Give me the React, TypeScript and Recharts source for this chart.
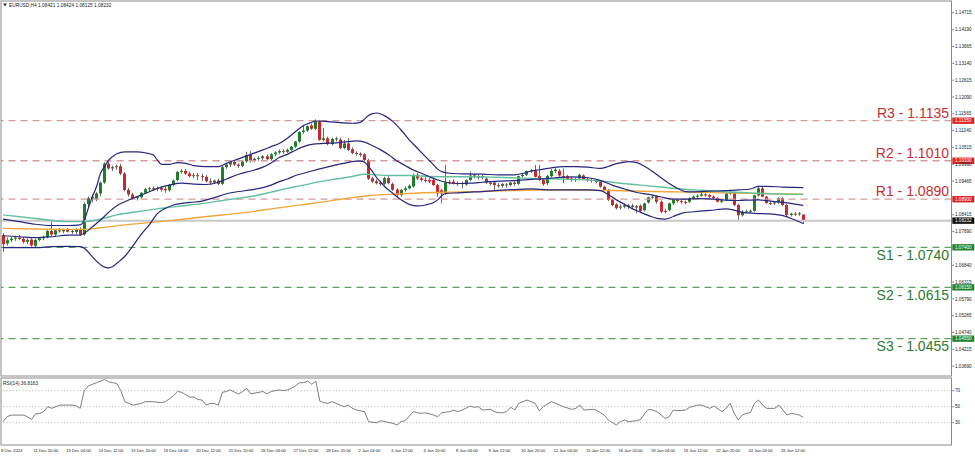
import React from "react";
import { ComposedChart, Bar, Line, XAxis, YAxis, ReferenceLine } from "recharts";

const FONT = '"Liberation Sans", Arial, Helvetica, sans-serif';

// ---- candles (EURUSD H4), index 0 = 8 Dec 2023 12:00 ----
const OPEN = [
  1.0778, 1.0752, 1.0762, 1.0767, 1.077, 1.0766, 1.0757, 1.0764, 1.0745, 1.0763,
  1.0768, 1.0772, 1.0791, 1.078, 1.0793, 1.079, 1.0794, 1.0789, 1.0788, 1.0797,
  1.078, 1.0875, 1.0893, 1.089, 1.0908, 1.0942, 1.1001, 1.0986, 1.099, 1.0993,
  1.097, 1.0919, 1.0905, 1.0893, 1.0896, 1.091, 1.0921, 1.0924, 1.0922, 1.0925,
  1.0922, 1.0918, 1.0935, 1.095, 1.0975, 1.0978, 1.097, 1.0962, 1.0965, 1.0962,
  1.096, 1.0946, 1.0942, 1.0948, 1.0938, 1.099, 1.0998, 1.1006, 1.0998, 1.0994,
  1.1008, 1.1028, 1.101, 1.1016, 1.1018, 1.1024, 1.1015, 1.103, 1.1036, 1.104,
  1.1038, 1.1044, 1.1054, 1.107, 1.11, 1.1104, 1.112, 1.111, 1.1132, 1.1075,
  1.108, 1.1062, 1.1078, 1.1076, 1.105, 1.1064, 1.1046, 1.1034, 1.1032, 1.103,
  1.1012, 1.0955, 1.0946, 1.0942, 1.0938, 1.0956, 1.0938, 1.092, 1.0903, 1.0919,
  1.0924, 1.093, 1.0966, 1.0955, 1.095, 1.095, 1.095, 1.0934, 1.0918, 1.091,
  1.0943, 1.0945, 1.094, 1.0938, 1.0936, 1.095, 1.0964, 1.0962, 1.0958, 1.0954,
  1.0942, 1.0942, 1.0934, 1.0932, 1.0936, 1.0934, 1.0942, 1.0938, 1.0962, 1.0966,
  1.0978, 1.098, 1.0962, 1.095, 1.094, 1.0962, 1.0978, 1.0978, 1.0962, 1.0962,
  1.0955, 1.095, 1.0955, 1.0964, 1.0953, 1.095, 1.0947, 1.0945, 1.0929, 1.0919,
  1.0888, 1.0874, 1.0866, 1.0867, 1.0871, 1.0866, 1.0868, 1.087, 1.0856, 1.088,
  1.0896, 1.0899, 1.0882, 1.0853, 1.0856, 1.0877, 1.0888, 1.0884, 1.0881, 1.0882,
  1.0893, 1.0898, 1.0901, 1.0905, 1.0903, 1.0898, 1.0893, 1.0882, 1.0888, 1.0908,
  1.091, 1.0872, 1.084, 1.0851, 1.0852, 1.0854, 1.0902, 1.0924, 1.0898, 1.0878,
  1.0877, 1.088, 1.0893, 1.0872, 1.0841, 1.0845, 1.0843, 1.08421,
];
const HIGH = [
  1.0784, 1.077, 1.0772, 1.0776, 1.0778, 1.0772, 1.0768, 1.0768, 1.0766, 1.0772,
  1.0776, 1.0795, 1.0825, 1.0796, 1.08, 1.0798, 1.08, 1.0796, 1.08, 1.0802,
  1.088, 1.0898, 1.0905, 1.0912, 1.0945, 1.1005, 1.1008, 1.0995, 1.0998, 1.1,
  1.0975, 1.0925, 1.091, 1.09, 1.0912, 1.0925, 1.0928, 1.093, 1.093, 1.093,
  1.0928, 1.0938, 1.0952, 1.0978, 1.0984, 1.0985, 1.0976, 1.0972, 1.0972, 1.097,
  1.0966, 1.0955, 1.0952, 1.0954, 1.0995, 1.1002, 1.1008, 1.1012, 1.1002, 1.101,
  1.1038, 1.104, 1.102, 1.1024, 1.1028, 1.103, 1.1034, 1.104, 1.1045, 1.1046,
  1.1048, 1.1056, 1.1072, 1.1102, 1.1122, 1.112, 1.1126, 1.1139, 1.1136, 1.1112,
  1.1085, 1.1082, 1.1085, 1.1082, 1.1075, 1.108, 1.1052, 1.104, 1.1036, 1.1034,
  1.1016, 1.096, 1.0952, 1.0948, 1.096, 1.0962, 1.0942, 1.0924, 1.0922, 1.093,
  1.0936, 1.097, 1.0972, 1.096, 1.0958, 1.0956, 1.0955, 1.0938, 1.0922, 1.0997,
  1.095, 1.0952, 1.0946, 1.0944, 1.0952, 1.0976, 1.097, 1.0968, 1.0966, 1.096,
  1.0946, 1.0946, 1.094, 1.094, 1.094, 1.0944, 1.0946, 1.0964, 1.097, 1.098,
  1.0984, 1.0997, 1.0997, 1.0956, 1.0966, 1.0984, 1.0988, 1.0984, 1.0986, 1.0966,
  1.096, 1.0958, 1.097, 1.0968, 1.0958, 1.0954, 1.0952, 1.0948, 1.0932, 1.0922,
  1.0892, 1.0878, 1.0874, 1.0876, 1.0875, 1.0876, 1.0872, 1.0874, 1.0879, 1.0898,
  1.0902, 1.0903, 1.0886, 1.086, 1.088, 1.089, 1.0892, 1.089, 1.0886, 1.0896,
  1.0902, 1.0906, 1.091, 1.091, 1.0906, 1.0902, 1.0896, 1.089, 1.091, 1.0916,
  1.0914, 1.0876, 1.0856, 1.0858, 1.0858, 1.0904, 1.093, 1.0928, 1.09, 1.0884,
  1.0884, 1.0896, 1.0898, 1.0875, 1.0848, 1.085, 1.085, 1.08424,
];
const LOW = [
  1.0726, 1.0745, 1.0756, 1.076, 1.0763, 1.0752, 1.075, 1.0742, 1.0738, 1.0758,
  1.0762, 1.0768, 1.0775, 1.0774, 1.0786, 1.0784, 1.0786, 1.0782, 1.0782, 1.0776,
  1.0776, 1.0866, 1.088, 1.0884, 1.09, 1.0938, 1.0982, 1.0978, 1.0982, 1.0965,
  1.0915, 1.0898, 1.0888, 1.0886, 1.0892, 1.0906, 1.0914, 1.0916, 1.0915, 1.0914,
  1.091, 1.0914, 1.093, 1.0946, 1.097, 1.0966, 1.0958, 1.0955, 1.095, 1.0948,
  1.0942, 1.0935, 1.0938, 1.0934, 1.0934, 1.0985, 1.099, 1.0994, 1.0988, 1.099,
  1.1004, 1.1005, 1.1005, 1.101, 1.1012, 1.1012, 1.101, 1.1024, 1.103, 1.1032,
  1.1034, 1.104, 1.105, 1.1066, 1.1094, 1.11, 1.1106, 1.1106, 1.1072, 1.107,
  1.1058, 1.1058, 1.107, 1.1046, 1.1046, 1.104, 1.103, 1.1026, 1.1022, 1.1008,
  1.095, 1.094, 1.0936, 1.0932, 1.0934, 1.0936, 1.0916, 1.0895, 1.0898, 1.0914,
  1.092, 1.0926, 1.095, 1.0945, 1.0942, 1.094, 1.0932, 1.0898, 1.0877, 1.0904,
  1.0936, 1.0936, 1.0932, 1.0924, 1.0932, 1.0946, 1.0955, 1.0952, 1.0952, 1.0938,
  1.0932, 1.0918, 1.0926, 1.0926, 1.0926, 1.093, 1.0932, 1.0934, 1.0958, 1.0962,
  1.0972, 1.0958, 1.0946, 1.0932, 1.0934, 1.0958, 1.0972, 1.096, 1.094, 1.095,
  1.0945, 1.0944, 1.095, 1.095, 1.0945, 1.0942, 1.094, 1.0926, 1.0915, 1.0884,
  1.0868, 1.0858, 1.0858, 1.0862, 1.086, 1.086, 1.0846, 1.0848, 1.0852, 1.0876,
  1.089, 1.0876, 1.0847, 1.0846, 1.0852, 1.0872, 1.088, 1.0876, 1.0874, 1.0878,
  1.0888, 1.0894, 1.0898, 1.0898, 1.0894, 1.0888, 1.088, 1.0878, 1.0884, 1.0904,
  1.0868, 1.0822, 1.0836, 1.0846, 1.0846, 1.085, 1.0898, 1.0896, 1.0876, 1.0872,
  1.0872, 1.0876, 1.0868, 1.0836, 1.0836, 1.0838, 1.0838, 1.08125,
];
const CLOSE = [
  1.075, 1.0762, 1.0767, 1.077, 1.0766, 1.0757, 1.0763, 1.0746, 1.0763, 1.0768,
  1.0772, 1.0791, 1.078, 1.0793, 1.079, 1.0794, 1.0789, 1.0791, 1.0797, 1.078,
  1.0875, 1.0893, 1.0898, 1.0908, 1.0942, 1.1001, 1.0986, 1.099, 1.0993, 1.097,
  1.0919, 1.0905, 1.0893, 1.0896, 1.091, 1.0921, 1.0924, 1.0922, 1.0925, 1.092,
  1.0918, 1.0935, 1.0948, 1.0975, 1.0978, 1.097, 1.0962, 1.0965, 1.0962, 1.096,
  1.0946, 1.0942, 1.0948, 1.0938, 1.099, 1.0998, 1.1006, 1.0998, 1.0994, 1.1008,
  1.1028, 1.101, 1.1016, 1.1019, 1.1024, 1.1015, 1.103, 1.1036, 1.104, 1.1038,
  1.1044, 1.1054, 1.107, 1.11, 1.1104, 1.1118, 1.111, 1.1134, 1.1075, 1.108,
  1.1062, 1.1078, 1.108, 1.1049, 1.1064, 1.1044, 1.1034, 1.1032, 1.1028, 1.1012,
  1.0954, 1.0945, 1.094, 1.0937, 1.0956, 1.094, 1.092, 1.0903, 1.0919, 1.0924,
  1.0932, 1.0966, 1.0955, 1.095, 1.0948, 1.0945, 1.0934, 1.0908, 1.0908, 1.0943,
  1.0942, 1.094, 1.0938, 1.094, 1.095, 1.0964, 1.096, 1.0958, 1.0962, 1.0942,
  1.0938, 1.0934, 1.0932, 1.0938, 1.0934, 1.0942, 1.0938, 1.0962, 1.0966, 1.0978,
  1.098, 1.096, 1.095, 1.0937, 1.0962, 1.0978, 1.0982, 1.0964, 1.0956, 1.0953,
  1.095, 1.0953, 1.0966, 1.0953, 1.095, 1.0947, 1.0945, 1.0929, 1.0919, 1.0888,
  1.0872, 1.0862, 1.0867, 1.0871, 1.0866, 1.087, 1.0864, 1.0853, 1.0877, 1.0896,
  1.0898, 1.0882, 1.0851, 1.0851, 1.0877, 1.0888, 1.0884, 1.0881, 1.0878, 1.0893,
  1.0898, 1.0901, 1.0905, 1.0903, 1.0898, 1.0893, 1.0882, 1.0886, 1.0908, 1.0913,
  1.0872, 1.084, 1.0851, 1.0852, 1.0854, 1.0902, 1.0924, 1.0898, 1.0878, 1.0877,
  1.088, 1.0893, 1.0872, 1.0841, 1.0845, 1.0843, 1.0846, 1.08232,
];

// ---- indicator readings: [bar index, value] ----
const BB_UPPER: [number, number][] = [
  [0, 1.0828], [4, 1.082], [8, 1.0812], [12, 1.0808], [16, 1.0808], [19, 1.081], [20, 1.0825],
  [21, 1.0862], [22, 1.0898], [23, 1.0929], [24, 1.0971], [25, 1.0992], [26, 1.1012], [27, 1.1023],
  [28, 1.1032], [30, 1.1038], [33, 1.1038], [35, 1.1035], [37, 1.1028], [38, 1.1012], [39, 1.0999],
  [41, 1.0999], [43, 1.1004], [45, 1.1002], [47, 1.0995], [50, 1.0992], [53, 1.0992], [55, 1.1002],
  [58, 1.1016], [61, 1.103], [64, 1.1044], [66, 1.1054], [68, 1.1064], [70, 1.108], [72, 1.1101],
  [74, 1.112], [76, 1.113], [77, 1.1134], [80, 1.1132], [83, 1.1129], [86, 1.1127], [88, 1.113],
  [89, 1.114], [90, 1.1151], [91, 1.1157], [92, 1.1159], [93, 1.1156], [94, 1.115], [96, 1.1132],
  [98, 1.1106], [100, 1.1075], [102, 1.1049], [104, 1.1023], [106, 1.0997], [107, 1.0984],
  [108, 1.0976], [110, 1.0971], [114, 1.0969], [118, 1.0968], [122, 1.0966], [126, 1.0966],
  [128, 1.0971], [130, 1.0978], [132, 1.0982], [135, 1.0988], [138, 1.0992], [141, 1.0992],
  [144, 1.099], [147, 1.0986], [149, 1.0992], [151, 1.1001], [153, 1.1006], [154, 1.1007],
  [156, 1.1004], [158, 1.0992], [160, 1.0976], [162, 1.0957], [164, 1.0939], [166, 1.0924],
  [168, 1.0914], [170, 1.0913], [174, 1.0915], [178, 1.0917], [181, 1.0919], [184, 1.0922],
  [186, 1.093], [188, 1.093], [192, 1.0928], [197, 1.0926],
];
const BB_MIDDLE: [number, number][] = [
  [0, 1.0776], [4, 1.0773], [8, 1.077], [12, 1.0773], [16, 1.0778], [19, 1.0778], [20, 1.0784],
  [22, 1.0804], [24, 1.0825], [26, 1.0849], [28, 1.087], [30, 1.0882], [32, 1.0893], [35, 1.0908],
  [38, 1.0924], [41, 1.0934], [44, 1.094], [47, 1.0937], [50, 1.0936], [53, 1.0943], [55, 1.0953],
  [58, 1.0968], [61, 1.0978], [64, 1.099], [66, 1.1003], [68, 1.102], [70, 1.103], [72, 1.1043],
  [74, 1.1054], [76, 1.1061], [79, 1.1064], [82, 1.1066], [85, 1.107], [87, 1.1072], [89, 1.1068],
  [91, 1.1057], [93, 1.1044], [95, 1.1028], [97, 1.1009], [99, 1.0995], [101, 1.0981],
  [103, 1.0971], [105, 1.096], [107, 1.095], [109, 1.0943], [112, 1.0939], [115, 1.094],
  [118, 1.0943], [121, 1.0946], [124, 1.0947], [127, 1.0949], [130, 1.0952], [132, 1.0953],
  [136, 1.0957], [140, 1.096], [144, 1.0957], [147, 1.0949], [150, 1.0934], [153, 1.0922],
  [156, 1.0911], [159, 1.0905], [162, 1.0897], [165, 1.089], [168, 1.089], [171, 1.0892],
  [174, 1.0891], [177, 1.0888], [180, 1.0886], [183, 1.0887], [186, 1.0888], [189, 1.0884],
  [192, 1.088], [195, 1.0875], [197, 1.0871],
];
const BB_LOWER: [number, number][] = [
  [0, 1.0739], [4, 1.0739], [8, 1.0739], [12, 1.0742], [16, 1.0743], [19, 1.0742], [20, 1.0737],
  [21, 1.0725], [22, 1.071], [23, 1.0697], [24, 1.0686], [25, 1.0678], [26, 1.0676], [27, 1.068],
  [28, 1.069], [30, 1.0712], [32, 1.0745], [34, 1.078], [36, 1.081], [38, 1.0845], [40, 1.0862],
  [42, 1.0872], [46, 1.088], [49, 1.0884], [52, 1.0895], [55, 1.0907], [58, 1.0914], [61, 1.0919],
  [64, 1.0926], [66, 1.0934], [68, 1.0945], [70, 1.0953], [72, 1.0964], [74, 1.0971], [76, 1.0978],
  [79, 1.0988], [82, 1.0997], [85, 1.1005], [87, 1.1009], [88, 1.1009], [89, 1.1005], [90, 1.0992],
  [91, 1.0976], [92, 1.0957], [93, 1.0943], [94, 1.0929], [96, 1.0908], [98, 1.0888], [100, 1.0874],
  [102, 1.0869], [104, 1.0872], [106, 1.088], [107, 1.0888], [108, 1.0901], [109, 1.0908],
  [112, 1.091], [115, 1.0912], [118, 1.0914], [121, 1.0917], [124, 1.0919], [127, 1.0921],
  [130, 1.0922], [132, 1.0921], [136, 1.0919], [140, 1.0919], [144, 1.0919], [147, 1.0917],
  [149, 1.0905], [151, 1.0888], [153, 1.0874], [155, 1.086], [157, 1.0849], [159, 1.0839],
  [161, 1.083], [163, 1.0828], [165, 1.0836], [167, 1.0846], [170, 1.0851], [174, 1.0855],
  [178, 1.086], [180, 1.0856], [182, 1.0849], [185, 1.0846], [189, 1.0844], [192, 1.0839],
  [195, 1.0825], [197, 1.0814],
];
const MA_GREEN: [number, number][] = [
  [0, 1.0841], [8, 1.083], [16, 1.082], [20, 1.082], [24, 1.0828], [28, 1.0841], [33, 1.0851],
  [38, 1.086], [42, 1.0866], [46, 1.0872], [50, 1.0878], [54, 1.0886], [58, 1.0893], [62, 1.0901],
  [66, 1.0912], [70, 1.0924], [74, 1.0934], [78, 1.0945], [82, 1.0953], [86, 1.0961], [89, 1.0968],
  [92, 1.0966], [96, 1.0964], [100, 1.0964], [105, 1.0961], [110, 1.096], [115, 1.096],
  [120, 1.0959], [125, 1.0957], [130, 1.0955], [137, 1.0953], [142, 1.0951], [147, 1.0947],
  [152, 1.094], [157, 1.0934], [162, 1.0928], [167, 1.0922], [172, 1.0918], [177, 1.0914],
  [182, 1.0911], [187, 1.0908], [192, 1.0906], [197, 1.0905],
];
const MA_ORANGE: [number, number][] = [
  [0, 1.0799], [8, 1.0797], [16, 1.0796], [20, 1.0796], [24, 1.0801], [30, 1.081], [36, 1.0817],
  [42, 1.0824], [48, 1.0833], [54, 1.0841], [60, 1.0849], [66, 1.086], [70, 1.0867], [75, 1.0875],
  [80, 1.0884], [85, 1.0893], [90, 1.0901], [95, 1.0905], [100, 1.0908], [110, 1.0912],
  [120, 1.0915], [132, 1.0919], [140, 1.0919], [150, 1.0917], [160, 1.0914], [170, 1.0912],
  [180, 1.0909], [190, 1.0907], [197, 1.0906],
];
const RSI: [number, number][] = [
  [0, 31.3], [1, 37.5], [2, 39.5], [3, 39.5], [5, 39.5], [6, 37.5], [7, 34], [8, 41], [9, 41.5],
  [10, 43.8], [11, 50], [12, 48], [13, 50], [14, 52], [16, 52], [17, 52], [18, 51], [19, 48],
  [20, 70], [21, 76], [22, 78], [23, 80], [24, 82], [25, 84], [26, 81], [27, 80], [28, 79],
  [29, 70], [30, 56.3], [31, 54], [32, 52], [34, 54], [35, 56.3], [37, 56.3], [39, 55],
  [40, 56.3], [41, 60], [42, 64], [43, 69], [44, 68], [45, 65], [46, 62], [47, 62], [48, 59],
  [49, 58.3], [50, 52], [51, 54], [52, 54], [53, 52], [54, 68], [55, 69], [56, 71], [57, 68],
  [58, 66], [59, 69], [60, 73], [61, 66], [62, 67], [63, 68], [64, 69], [65, 66], [66, 69],
  [67, 70], [68, 71], [69, 70], [70, 71], [71, 73], [72, 76], [73, 80], [74, 80], [75, 82],
  [76, 78], [77, 82], [78, 57], [79, 55], [80, 54.2], [81, 56.3], [83, 52], [84, 50], [85, 52],
  [86, 48], [87, 45.8], [89, 43.8], [90, 31.3], [92, 30], [93, 32.5], [94, 31.3], [96, 29.2],
  [97, 27.1], [98, 31.3], [99, 32.5], [101, 43.8], [102, 42.5], [103, 41.7], [104, 42.5],
  [106, 39.6], [107, 37.5], [108, 42.5], [110, 43.8], [111, 45.8], [112, 43.8], [113, 45.8],
  [115, 50.8], [116, 49.2], [117, 50], [118, 45.8], [120, 46.7], [121, 43.8], [122, 42.5],
  [123, 42.5], [124, 43.8], [125, 49.2], [126, 45.8], [127, 54.2], [128, 56.3], [129, 58.3],
  [131, 54.2], [132, 45], [133, 50], [135, 56.3], [136, 54.2], [138, 50], [140, 46.7],
  [141, 47.9], [142, 52], [143, 45.8], [145, 46.7], [146, 45.8], [148, 39.6], [149, 33.3],
  [151, 27.1], [152, 31.3], [153, 33.3], [154, 31.3], [156, 32.5], [157, 34], [158, 41.7],
  [159, 46.7], [160, 45.8], [161, 43.8], [163, 35.4], [164, 37.5], [165, 45.8], [166, 45],
  [168, 45.8], [169, 49.2], [171, 52], [172, 52], [173, 50], [174, 47.9], [175, 50.8],
  [177, 43.8], [178, 47.9], [179, 54.2], [180, 42], [181, 33.3], [182, 39.6], [183, 41.7],
  [184, 42.5], [185, 54.2], [186, 58.3], [187, 52], [188, 47.9], [190, 47.9], [191, 52],
  [192, 45.8], [193, 39.6], [194, 41.7], [195, 40.8], [196, 39.6], [197, 36.82],
];

const X_LABELS = [
  "8 Dec 2023", "11 Dec 20:00", "13 Dec 04:00", "14 Dec 12:00", "15 Dec 20:00", "19 Dec 04:00",
  "20 Dec 12:00", "21 Dec 20:00", "26 Dec 04:00", "27 Dec 12:00", "28 Dec 20:00", "2 Jan 04:00",
  "3 Jan 12:00", "4 Jan 20:00", "8 Jan 04:00", "9 Jan 12:00", "10 Jan 20:00", "12 Jan 04:00",
  "15 Jan 12:00", "16 Jan 20:00", "18 Jan 04:00", "19 Jan 12:00", "22 Jan 20:00", "24 Jan 04:00",
  "25 Jan 12:00",
];
const PRICE_TICKS = [
  1.0369, 1.04215, 1.0474, 1.05265, 1.0579, 1.06315, 1.0684, 1.0789, 1.08415, 1.09465, 1.0999,
  1.10515, 1.1104, 1.11565, 1.1209, 1.12615, 1.1314, 1.13665, 1.1419, 1.14715,
];
const RSI_TICKS = [30, 50, 70];
const RSI_LEVELS = [70, 50, 30];

const LEVELS = [
  { name: "R3", value: 1.1135, kind: "r" },
  { name: "R2", value: 1.101, kind: "r" },
  { name: "R1", value: 1.089, kind: "r" },
  { name: "S1", value: 1.074, kind: "s" },
  { name: "S2", value: 1.0615, kind: "s" },
  { name: "S3", value: 1.0455, kind: "s" },
];
const CURRENT = 1.08232;

const PRICE_MAX = 1.150534;
const PRICE_MIN = 1.033846;
const RSI_MAX = 85.875;
const RSI_MIN = 2.125;
const SLOTS = 234;

const GREEN = "#1f7d2b";
const RED = "#c9282d";

const toMap = (pairs: [number, number][]) => new Map(pairs.map(([i, v]) => [i, v]));
const mU = toMap(BB_UPPER);
const mM = toMap(BB_MIDDLE);
const mL = toMap(BB_LOWER);
const mG = toMap(MA_GREEN);
const mO = toMap(MA_ORANGE);
const mR = toMap(RSI);

const rows = Array.from({ length: SLOTS }, (_, i) => {
  const has = i < OPEN.length;
  return {
    i,
    range: has ? [LOW[i], HIGH[i]] : undefined,
    o: has ? OPEN[i] : undefined,
    h: has ? HIGH[i] : undefined,
    l: has ? LOW[i] : undefined,
    c: has ? CLOSE[i] : undefined,
    bbU: mU.has(i) ? mU.get(i) : null,
    bbM: mM.has(i) ? mM.get(i) : null,
    bbL: mL.has(i) ? mL.get(i) : null,
    maG: mG.has(i) ? mG.get(i) : null,
    maO: mO.has(i) ? mO.get(i) : null,
    rsi: mR.has(i) ? mR.get(i) : null,
  };
});

function Candle(props: any) {
  const { x, y, width, height } = props;
  const d = props.payload ?? props;
  if (!d || d.o == null || typeof y !== "number" || !isFinite(y)) return <g />;
  const top = Math.min(y, y + height);
  const span = Math.abs(height);
  const rng = d.h - d.l;
  const py = (v: number) => (rng > 0 ? top + ((d.h - v) / rng) * span : top);
  const cx = Math.floor(x + width / 2) + 0.5;
  const bull = d.c >= d.o;
  const bTop = py(Math.max(d.o, d.c));
  const bBot = py(Math.min(d.o, d.c));
  const bh = Math.max(1, bBot - bTop);
  return (
    <g>
      <line x1={cx} x2={cx} y1={top} y2={top + span} stroke="#6a6a6a" strokeWidth={1} />
      <rect x={cx - 1.5} y={bTop} width={3} height={bh} fill={bull ? GREEN : RED} />
    </g>
  );
}

function LevelLabel(props: any) {
  const { viewBox, lvText, lvBox, lvColor, lvBoxColor, lvAbove } = props;
  if (!viewBox) return <g />;
  const right = viewBox.x + viewBox.width;
  const y = viewBox.y;
  return (
    <g>
      {lvText ? (
        <text
          x={right - 2.5}
          y={lvAbove ? y - 3 : y + 12.5}
          textAnchor="end"
          fontSize={14}
          fill={lvColor}
          fontFamily={FONT}
        >
          {lvText}
        </text>
      ) : null}
      <rect x={right + 0.8} y={y - 3.2} width={22} height={6.4} fill={lvBoxColor} />
      <text x={right + 3.5} y={y + 1.6} fontSize={4.6} fill="#ffffff" fontFamily={FONT}>
        {lvBox}
      </text>
    </g>
  );
}

function PriceTick(props: any) {
  const { x, y, payload } = props;
  return (
    <g>
      <line x1={x + 0.8} x2={x + 2.6} y1={y} y2={y} stroke="#555" strokeWidth={0.8} />
      <text x={x + 3.5} y={y + 1.6} fontSize={4.6} fill="#222" fontFamily={FONT}>
        {Number(payload.value).toFixed(5)}
      </text>
    </g>
  );
}

function RsiTick(props: any) {
  const { x, y, payload } = props;
  return (
    <g>
      <line x1={x + 0.8} x2={x + 2.6} y1={y} y2={y} stroke="#555" strokeWidth={0.8} />
      <text x={x + 3.5} y={y + 1.6} fontSize={4.6} fill="#222" fontFamily={FONT}>
        {String(payload.value)}
      </text>
    </g>
  );
}

function XTick(props: any) {
  const { x, payload } = props;
  const idx = Number(payload?.value);
  if (idx % 8 !== 0 || idx / 8 >= X_LABELS.length) return <g />;
  return (
    <text x={x - 2} y={73.6} fontSize={4.2} fill="#222" fontFamily={FONT}>
      {X_LABELS[idx / 8]}
    </text>
  );
}

export default function App() {
  return (
    <div
      style={{
        position: "absolute",
        left: 0,
        top: 0,
        width: 975,
        height: 456,
        background: "#ffffff",
        overflow: "hidden",
        fontFamily: FONT,
      }}
    >
      <div style={{ position: "absolute", left: 0, top: 0 }}>
        <ComposedChart
          width={975}
          height={378}
          data={rows}
          margin={{ top: 2, right: 0, bottom: 2, left: 1 }}
          barCategoryGap={0}
        >
          <XAxis dataKey="i" hide />
          <YAxis
            orientation="right"
            type="number"
            width={23.5}
            domain={[PRICE_MIN, PRICE_MAX]}
            allowDataOverflow
            ticks={PRICE_TICKS}
            interval={0}
            tick={(p: any) => <PriceTick {...p} />}
            tickLine={false}
            tickSize={0}
            tickMargin={0}
            axisLine={{ stroke: "#808080" }}
          />
          {LEVELS.map((lv) => (
            <ReferenceLine
              key={lv.name}
              y={lv.value}
              stroke={lv.kind === "r" ? "#d59a9a" : "#62a062"}
              strokeWidth={1.3}
              strokeDasharray="7 5"
              label={
                <LevelLabel
                  lvText={`${lv.name} - ${lv.value.toFixed(4)}`}
                  lvBox={lv.value.toFixed(5)}
                  lvColor={lv.kind === "r" ? "#c62f32" : "#2d7a30"}
                  lvBoxColor={lv.kind === "r" ? "#e02424" : "#23862f"}
                  lvAbove={lv.kind === "r"}
                />
              }
            />
          ))}
          <ReferenceLine
            y={CURRENT}
            stroke="#c8c8c8"
            strokeWidth={2}
            label={<LevelLabel lvText="" lvBox={CURRENT.toFixed(5)} lvColor="#000" lvBoxColor="#111111" lvAbove />}
          />
          <Bar dataKey="range" isAnimationActive={false} shape={(p: any) => <Candle {...p} />} />
          <Line dataKey="maO" type="monotone" stroke="#f0a63a" strokeWidth={1.4} dot={false} activeDot={false} connectNulls isAnimationActive={false} />
          <Line dataKey="maG" type="monotone" stroke="#62c09c" strokeWidth={1.4} dot={false} activeDot={false} connectNulls isAnimationActive={false} />
          <Line dataKey="bbU" type="monotone" stroke="#26267e" strokeWidth={1.2} dot={false} activeDot={false} connectNulls isAnimationActive={false} />
          <Line dataKey="bbM" type="monotone" stroke="#26267e" strokeWidth={1.2} dot={false} activeDot={false} connectNulls isAnimationActive={false} />
          <Line dataKey="bbL" type="monotone" stroke="#26267e" strokeWidth={1.2} dot={false} activeDot={false} connectNulls isAnimationActive={false} />
        </ComposedChart>
      </div>

      <div style={{ position: "absolute", left: 0, top: 378 }}>
        <ComposedChart
          width={975}
          height={78}
          data={rows}
          margin={{ top: 0, right: 0, bottom: 0, left: 1 }}
          barCategoryGap={0}
        >
          <XAxis
            dataKey="i"
            interval={0}
            height={11}
            tickLine={false}
            axisLine={false}
            tick={(p: any) => <XTick {...p} />}
          />
          <YAxis
            orientation="right"
            type="number"
            width={23.5}
            domain={[RSI_MIN, RSI_MAX]}
            allowDataOverflow
            ticks={RSI_TICKS}
            interval={0}
            tick={(p: any) => <RsiTick {...p} />}
            tickLine={false}
            tickSize={0}
            tickMargin={0}
            axisLine={{ stroke: "#808080" }}
          />
          {RSI_LEVELS.map((v) => (
            <ReferenceLine key={v} y={v} stroke="#b0b0b0" strokeWidth={0.8} strokeDasharray="1.2 2" />
          ))}
          <Bar dataKey="none" isAnimationActive={false} />
          <Line dataKey="rsi" type="linear" stroke="#6e6e6e" strokeWidth={0.9} dot={false} activeDot={false} connectNulls isAnimationActive={false} />
        </ComposedChart>
      </div>

      <svg
        width={975}
        height={456}
        style={{ position: "absolute", left: 0, top: 0, pointerEvents: "none" }}
      >
        <rect x={1} y={1} width={950.5} height={375} fill="none" stroke="#8a8a8a" strokeWidth={1} />
        <rect x={1} y={378} width={950.5} height={67} fill="none" stroke="#8a8a8a" strokeWidth={1} />
        <polygon points="3,3.6 7,3.6 5,6.6" fill="#333" />
        <text x={9} y={6.8} fontSize={4.8} fill="#222" fontFamily={FONT}>
          EURUSD,H4 1.08421 1.08424 1.08125 1.08232
        </text>
        <text x={3} y={385} fontSize={4.8} fill="#222" fontFamily={FONT}>
          RSI(14) 36.8163
        </text>
      </svg>
    </div>
  );
}
